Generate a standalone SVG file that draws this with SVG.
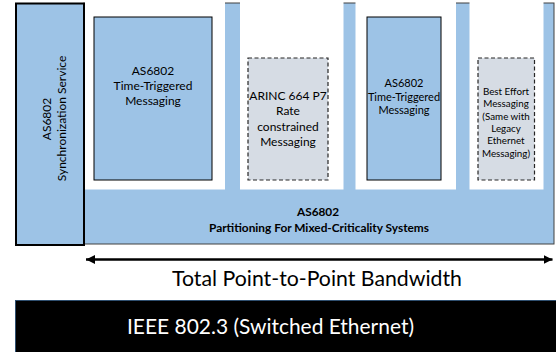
<svg xmlns="http://www.w3.org/2000/svg" width="556" height="352" viewBox="0 0 556 352">
  <defs>
    <style>
      text { font-family: "Lato", "Liberation Sans", sans-serif; fill: #000; text-anchor: middle; }
      .blue { fill: #9DC3E6; stroke: #000; stroke-width: 1; }
      .gray { fill: #D6DCE4; stroke: #262626; stroke-width: 1.2; stroke-dasharray: 4 2.5; }
      .t1 { font-size: 12px; }
      .t3 { font-size: 11px; }
      .t4 { font-size: 9.8px; }
      .bold { font-size: 11.8px; font-weight: bold; }
      .big { font-size: 21.4px; }
    </style>
    <marker id="ah" viewBox="0 0 10 10" refX="10" refY="5" markerWidth="3.6" markerHeight="3.6" orient="auto-start-reverse" markerUnits="strokeWidth">
      <path d="M0,0 L10,5 L0,10 z" fill="#000"/>
    </marker>
  </defs>
  <rect width="556" height="352" fill="#fff"/>

  <g id="partitioning">
    <rect x="84" y="3" width="470" height="241" fill="#9DC3E6" stroke="#404040" stroke-width="1"/>
    <rect x="84.5" y="0" width="140.5" height="189.5" fill="#fff"/>
    <rect x="240" y="0" width="103.5" height="189.5" fill="#fff"/>
    <rect x="355.5" y="0" width="100.5" height="189.5" fill="#fff"/>
    <rect x="469.5" y="0" width="74" height="189.5" fill="#fff"/>
    <text class="bold" x="318" y="216">AS6802</text>
    <text class="bold" x="319" y="232" textLength="220" lengthAdjust="spacingAndGlyphs">Partitioning For Mixed-Criticality Systems</text>
  </g>

  <g id="sync">
    <rect x="16" y="3.5" width="68" height="241.5" fill="#9DC3E6" stroke="#000" stroke-width="2"/>
    <text class="t1" transform="translate(50.5,119) rotate(-90)">AS6802</text>
    <text class="t1" transform="translate(65.5,118.5) rotate(-90)">Synchronization Service</text>
  </g>

  <g id="tt1">
    <rect class="blue" x="94" y="17" width="118" height="163"/>
    <text class="t1" x="153" y="75">AS6802</text>
    <text class="t1" x="153" y="90">Time-Triggered</text>
    <text class="t1" x="153" y="104.5">Messaging</text>
  </g>

  <g id="arinc">
    <rect class="gray" x="248" y="58" width="80" height="122"/>
    <text class="t1" x="288" y="99.5">ARINC 664 P7</text>
    <text class="t1" x="288" y="115">Rate</text>
    <text class="t1" x="288" y="130.5">constrained</text>
    <text class="t1" x="288" y="145.5">Messaging</text>
  </g>

  <g id="tt2">
    <rect class="blue" x="367" y="17" width="74" height="163"/>
    <text class="t3" x="404" y="86.5">AS6802</text>
    <text class="t3" x="404" y="100.5">Time-Triggered</text>
    <text class="t3" x="404" y="114">Messaging</text>
  </g>

  <g id="besteffort">
    <rect class="gray" x="478" y="58" width="56.5" height="122"/>
    <text class="t4" x="506" y="94.5">Best Effort</text>
    <text class="t4" x="506" y="107">Messaging</text>
    <text class="t4" x="506" y="119.5">(Same with</text>
    <text class="t4" x="506" y="132">Legacy</text>
    <text class="t4" x="506" y="144">Ethernet</text>
    <text class="t4" x="506" y="156.5">Messaging)</text>
  </g>

  <g id="connectors">
    <line x1="86" y1="259.5" x2="552.5" y2="259.5" stroke="#000" stroke-width="2.5" marker-start="url(#ah)" marker-end="url(#ah)"/>
  </g>

  <g id="bandwidth-label">
    <text class="big" x="317" y="286" textLength="290" lengthAdjust="spacingAndGlyphs">Total Point-to-Point Bandwidth</text>
  </g>

  <g id="ieee">
    <rect x="15.5" y="300.5" width="545" height="55" fill="#000" stroke="#2F4F6F" stroke-width="1"/>
    <text class="big" x="270.5" y="334" textLength="287" lengthAdjust="spacingAndGlyphs" style="fill:#fff">IEEE 802.3 (Switched Ethernet)</text>
  </g>
</svg>
